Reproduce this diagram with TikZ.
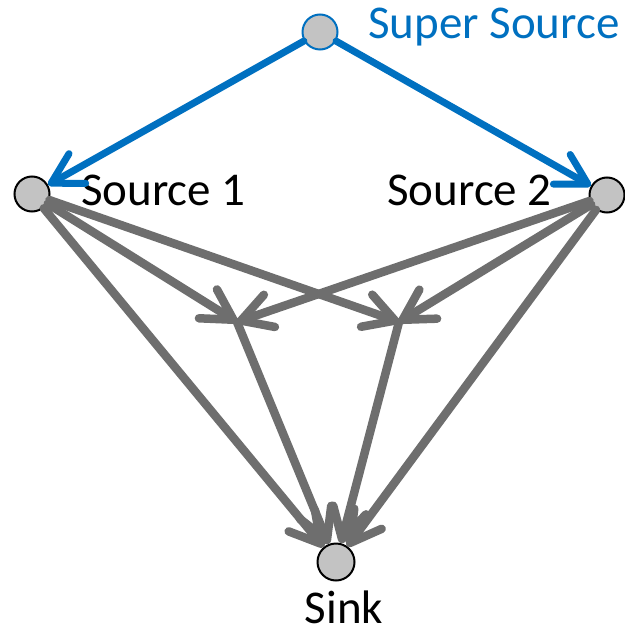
\documentclass[tikz,border=0pt]{standalone}
\usepackage{fontspec}
\setmainfont{Carlito}
\usetikzlibrary{arrows.meta}
\definecolor{flowblue}{RGB}{0,112,192}
\definecolor{edgegray}{RGB}{110,110,110}
\definecolor{nodefill}{RGB}{195,195,195}
\begin{document}
\begin{tikzpicture}[x=1pt,y=-1pt,
  vertex/.style={circle,draw=black,fill=nodefill,line width=2pt,minimum size=35pt,inner sep=0pt},
  label/.style={font=\fontsize{47}{52}\selectfont,inner sep=0pt},
  flow/.style={draw=edgegray,line width=8.5pt,line cap=round,
    -{Straight Barb[length=30pt,width=34pt,round]}},
  superflow/.style={draw=flowblue,line width=7pt,line cap=round,
    -{Straight Barb[length=30pt,width=34pt,round]}}]
\useasboundingbox (0,0) rectangle (624,636);

% vertices
\node[vertex,draw=flowblue] (ss) at (320,32) {};
\node[vertex] (s1) at (32,194) {};
\node[vertex] (s2) at (607,195) {};
\node[vertex,minimum size=37pt] (t) at (336,562) {};
\coordinate (m1) at (237,322);
\coordinate (m2) at (399,322);

% labels
\node[label,text=flowblue,anchor=west] (lss) at (368,27) {Super Source};
\node[label,anchor=west] (ls1) at (81,190) {Source 1};
\node[label,anchor=east] (ls2) at (552,190) {Source 2};
\node[label] (lt) at (344,607) {Sink};

% gray edges
\draw[flow] (s1) -- (m1);
\draw[flow] (s1) -- (m2);
\draw[flow] (s2) -- (m1);
\draw[flow] (s2) -- (m2);
\draw[flow] (s1) -- (t);
\draw[flow] (s2) -- (t);
\draw[flow] (m1) -- (t);
\draw[flow] (m2) -- (t);

% blue edges from the super source
\draw[superflow] (ss) -- (s1);
\draw[superflow] (ss) -- (s2);
\end{tikzpicture}
\end{document}
